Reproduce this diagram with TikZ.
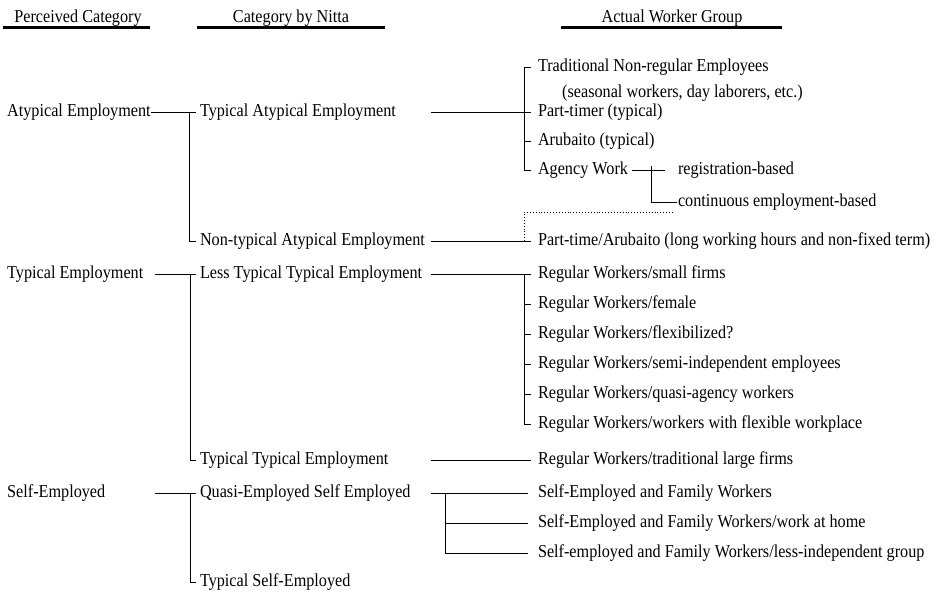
\documentclass[tikz,border=0pt]{standalone}
\usepackage{fontspec}
\setmainfont[FakeStretch=0.89]{Liberation Serif}

\begin{document}
\begin{tikzpicture}[x=1pt,y=-1pt,
  lbl/.style={inner sep=0pt, anchor=west, font=\fontsize{18.2}{20}\selectfont, text height=12pt, text depth=4pt},
  cat/.style={lbl, outer xsep=4pt},
  grp/.style={lbl, outer xsep=7pt},
  sub/.style={lbl, outer xsep=1pt},
  head/.style={inner sep=0pt, anchor=base, font=\fontsize{18.2}{20}\selectfont},
  conn/.style={line width=0.9pt}]
\useasboundingbox (0,0) rectangle (944,598);
\node[head] (h1) at (78,22) {Perceived Category};
\node[head] (h2) at (291,22) {Category by Nitta};
\node[head] (h3) at (672,22) {Actual Worker Group};
\draw[line width=3pt] (3,27) -- (150,27);
\draw[line width=3pt] (197,27) -- (385,27);
\draw[line width=3pt] (561,27) -- (782,27);
\coordinate (c1) at (155,0);
\coordinate (mid) at (431,0);
\coordinate (b3) at (524,0);
\coordinate (b4) at (651,0);
\coordinate (b5) at (445,0);
\coordinate (dotend) at (673,212);
\node[lbl] (atyp) at (7,112) {Atypical Employment};
\node[lbl] (typ) at (7,274) {Typical Employment};
\node[lbl] (self) at (7,493) {Self-Employed};
\node[cat] (tae) at (196,112) {Typical Atypical Employment};
\node[cat] (ntae) at (196,241) {Non-typical Atypical Employment};
\node[cat] (ltte) at (196,274) {Less Typical Typical Employment};
\node[cat] (tte) at (196,460) {Typical Typical Employment};
\node[cat] (qse) at (196,493) {Quasi-Employed Self Employed};
\node[cat] (tse) at (196,582) {Typical Self-Employed};
\node[grp] (trad) at (531,67) {Traditional Non-regular Employees};
\node[lbl] (trad2) at (562,93) {(seasonal workers, day laborers, etc.)};
\node[grp] (pt) at (531,112) {Part-timer (typical)};
\node[grp] (aru) at (531,141) {Arubaito (typical)};
\node[grp] (agency) at (531,170) {Agency Work};
\node[sub] (reg) at (677,170) {registration-based};
\node[sub] (cont) at (677,202) {continuous employment-based};
\node[grp] (pta) at (531,241) {Part-time/Arubaito (long working hours and non-fixed term)};
\node[grp] (rw1) at (531,274) {Regular Workers/small firms};
\node[grp] (rw2) at (531,304) {Regular Workers/female};
\node[grp] (rw3) at (531,334) {Regular Workers/flexibilized?};
\node[grp] (rw4) at (531,364) {Regular Workers/semi-independent employees};
\node[grp] (rw5) at (531,394) {Regular Workers/quasi-agency workers};
\node[grp] (rw6) at (531,424) {Regular Workers/workers with flexible workplace};
\node[grp] (rw7) at (531,460) {Regular Workers/traditional large firms};
\node[grp] (sf1) at (531,493) {Self-Employed and Family Workers};
\node[grp] (sf2) at (531,523) {Self-Employed and Family Workers/work at home};
\node[grp] (sf3) at (531,553) {Self-employed and Family Workers/less-independent group};
\draw[conn] (atyp.east) -- (tae.west);
\draw[conn] (tae.west) ++(-7,0) |- (ntae.west);
\draw[conn] (typ.west -| c1) -- (ltte.west);
\draw[conn] (ltte.west) ++(-6,0) |- (tte.west);
\draw[conn] (self.west -| c1) -- (qse.west);
\draw[conn] (qse.west) ++(-6,0) |- (tse.west);
\draw[conn] (tae.west -| mid) -- (pt.west);
\draw[conn] (trad.west) -- (trad.west -| b3) -- (agency.west -| b3) -- (agency.west);
\draw[conn] (aru.west -| b3) -- (aru.west);
\draw[conn] ([xshift=-3pt]agency.east) -- ([xshift=-12pt]reg.west);
\draw[conn] ([yshift=4pt]agency.east -| b4) |- (cont.west);
\draw[conn] (ntae.west -| mid) -- (pta.west);
\draw[conn, dotted] (pta.west -| b3) |- (dotend);
\draw[conn] (ltte.west -| mid) -- (rw1.west);
\draw[conn] (rw1.west -| b3) |- (rw6.west);
\foreach \n in {2,...,5}
  \draw[conn] (rw\n.west -| b3) -- (rw\n.west);
\draw[conn] (tte.west -| mid) -- (rw7.west);
\draw[conn] (qse.west -| mid) -- ([xshift=-3pt]sf1.west);
\draw[conn] (qse.west -| b5) |- ([xshift=-3pt]sf3.west);
\draw[conn] (sf2.west -| b5) -- ([xshift=-3pt]sf2.west);
\end{tikzpicture}
\end{document}
